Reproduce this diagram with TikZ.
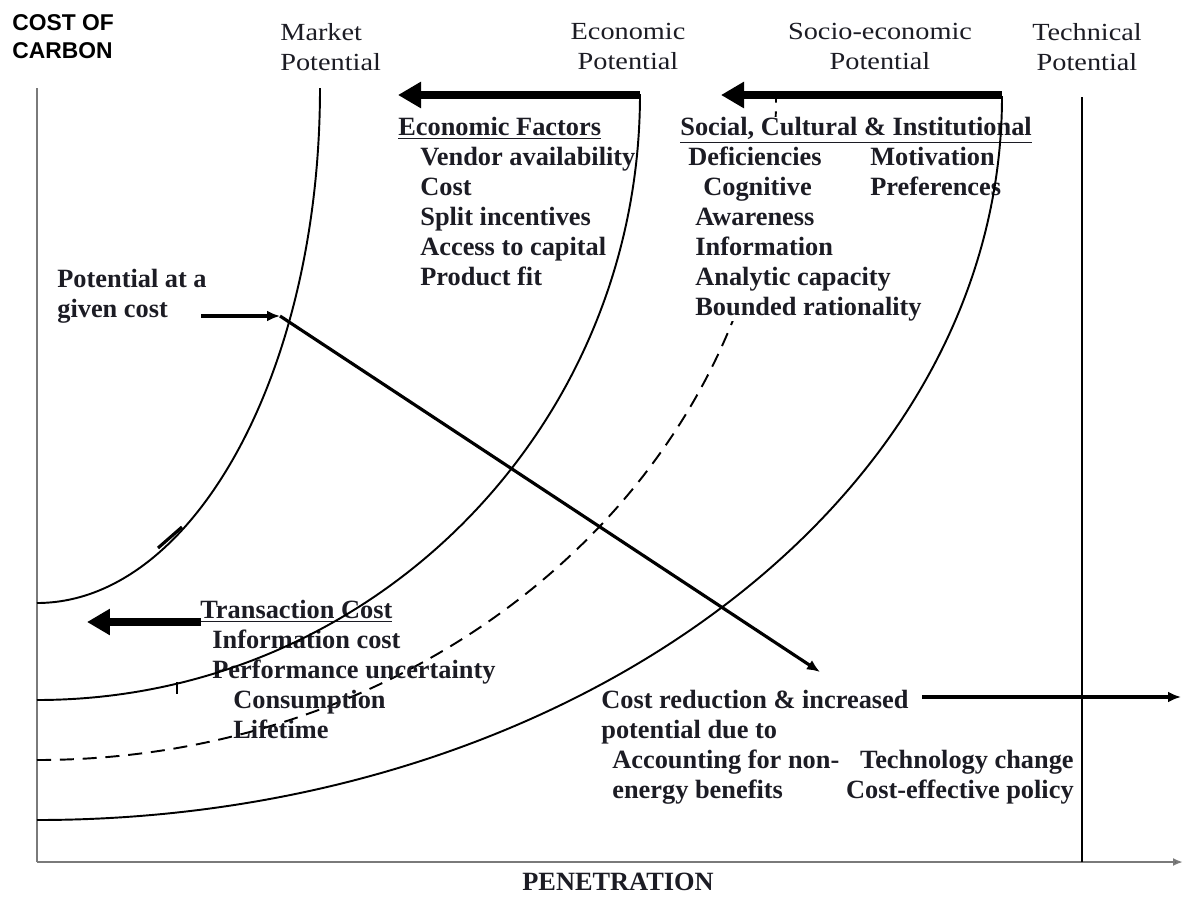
\documentclass[tikz,border=0pt]{standalone}
\usepackage{fontspec}
\setmainfont{Liberation Serif}
\newfontfamily\headfont[FakeStretch=1.15]{Liberation Serif}
\newfontfamily\axisfont{Liberation Sans}
\usetikzlibrary{arrows.meta}
\definecolor{ink}{HTML}{1C1C24}
\definecolor{axisgray}{HTML}{7A7A7A}

\begin{document}
\begin{tikzpicture}[x=0.02cm,y=-0.02cm,
    potline/.style={line width=1.1pt},
    axisline/.style={line width=1.3pt,draw=axisgray},
    shiftarrow/.style={line width=4.5pt,-{Triangle[length=0.46cm,width=0.5cm]}},
    costarrow/.style={line width=1.8pt,-{Latex[length=0.26cm,width=0.22cm]}},
    headlbl/.style={font=\headfont\fontsize{14}{17.07}\selectfont,align=center,
      anchor=north,inner sep=0pt,text=ink},
    factors/.style={font=\bfseries\fontsize{15}{17.07}\selectfont,align=left,
      anchor=north west,inner sep=0pt,text=ink}]
  \useasboundingbox (0,0) rectangle (1186,896);
  % axes
  \coordinate (origin) at (37,862);
  \coordinate (ytop) at (37,88);
  \coordinate (xend) at (1183,862);
  \draw[axisline] (origin) -- (ytop);
  \draw[axisline,-{Latex[length=0.2cm,width=0.16cm,fill=black]}] (origin) -- (xend);
  \node[font=\axisfont\bfseries\fontsize{13}{15.9}\selectfont,align=left,
    anchor=north west,inner sep=0pt] (ylbl) at (12,14) {COST OF\\CARBON};
  \node[font=\bfseries\fontsize{15}{17}\selectfont,text=ink] (xlbl) at (618,882) {PENETRATION};
  % potential labels
  \node[headlbl,align=left,anchor=north west] (mktlbl) at (280,23) {Market\\Potential};
  \node[headlbl] (ecolbl) at (628,23) {Economic\\Potential};
  \node[headlbl] (soclbl) at (880,23) {Socio-economic\\Potential};
  \node[headlbl] (teclbl) at (1087,23) {Technical\\Potential};
  % curve ends
  \coordinate (mkt-top) at (320,88);
  \coordinate (eco-top) at (640,94);
  \coordinate (soc-top) at (776,97);
  \coordinate (oth-top) at (1002,96);
  \coordinate (tec-top) at (1082,97);
  \coordinate (tec-bot) at (1082,862);
  \draw[potline,dash pattern=on 8pt off 5pt] (37,760) .. controls (443,760) and (776,464) .. (soc-top);
  % factor lists
  \node[factors] (ecofac) at (398,117) {\underline{Economic Factors}\\
    \hspace*{0.44cm}Vendor availability\\
    \hspace*{0.44cm}Cost\\
    \hspace*{0.44cm}Split incentives\\
    \hspace*{0.44cm}Access to capital\\
    \hspace*{0.44cm}Product fit};
  \node[factors,fill=white] (socfac) at (680,117) {\underline{Social, Cultural \& Institutional}\\
    \hspace*{0.16cm}Deficiencies\\
    \hspace*{0.46cm}Cognitive\\
    \hspace*{0.3cm}Awareness\\
    \hspace*{0.3cm}Information\\
    \hspace*{0.3cm}Analytic capacity\\
    \hspace*{0.3cm}Bounded rationality};
  \node[factors] (motiv) at (870,147) {Motivation\\Preferences};
  \node[factors] (trans) at (200,600) {\underline{Transaction Cost}\\
    \hspace*{0.24cm}Information cost\\
    \hspace*{0.24cm}Performance uncertainty\\
    \hspace*{0.66cm}Consumption\\
    \hspace*{0.66cm}Lifetime};
  \node[factors] (given) at (57,269) {Potential at a\\given cost};
  \node[factors] (costred) at (601,690) {Cost reduction \& increased\\
    potential due to\\
    \hspace*{0.22cm}Accounting for non-\\
    \hspace*{0.22cm}energy benefits};
  \node[factors,anchor=north east,align=right] (techchg) at (1074,750) {Technology change\\Cost-effective policy};
  % potential curves
  \draw[potline] (37,603) .. controls (193,603) and (320,372) .. (mkt-top);
  \draw[potline] (37,700) .. controls (370,700) and (640,430) .. (eco-top);
  \draw[potline] (37,820) .. controls (569,820) and (1002,500) .. (oth-top);
  \draw[potline,line width=0.9pt] (tec-top) -- (tec-bot);
  \draw[line width=1.8pt] (158,548) -- (182,527);
  \draw[line width=0.8pt] (177,682) -- (177,694);
  % shifts between potentials
  \coordinate (eco-tip) at (398,95);
  \coordinate (soc-tip) at (721,95);
  \coordinate (trans-tail) at (201,622);
  \coordinate (trans-tip) at (87,622);
  \draw[shiftarrow] (eco-top |- eco-tip) -- (eco-tip);
  \draw[shiftarrow] (oth-top |- soc-tip) -- (soc-tip);
  \draw[shiftarrow] (trans-tail) -- (trans-tip);
  % cost reduction path
  \coordinate (gc-tail) at (201,316);
  \coordinate (gc-pt) at (280,316);
  \coordinate (cr-tip) at (820,672);
  \coordinate (cr-tail) at (922,697);
  \coordinate (cr-tip2) at (1181,697);
  \draw[costarrow] (gc-tail) -- (gc-pt);
  \draw[costarrow] (gc-pt) -- (cr-tip);
  \draw[costarrow] (cr-tail) -- (cr-tip2);
\end{tikzpicture}
\end{document}
